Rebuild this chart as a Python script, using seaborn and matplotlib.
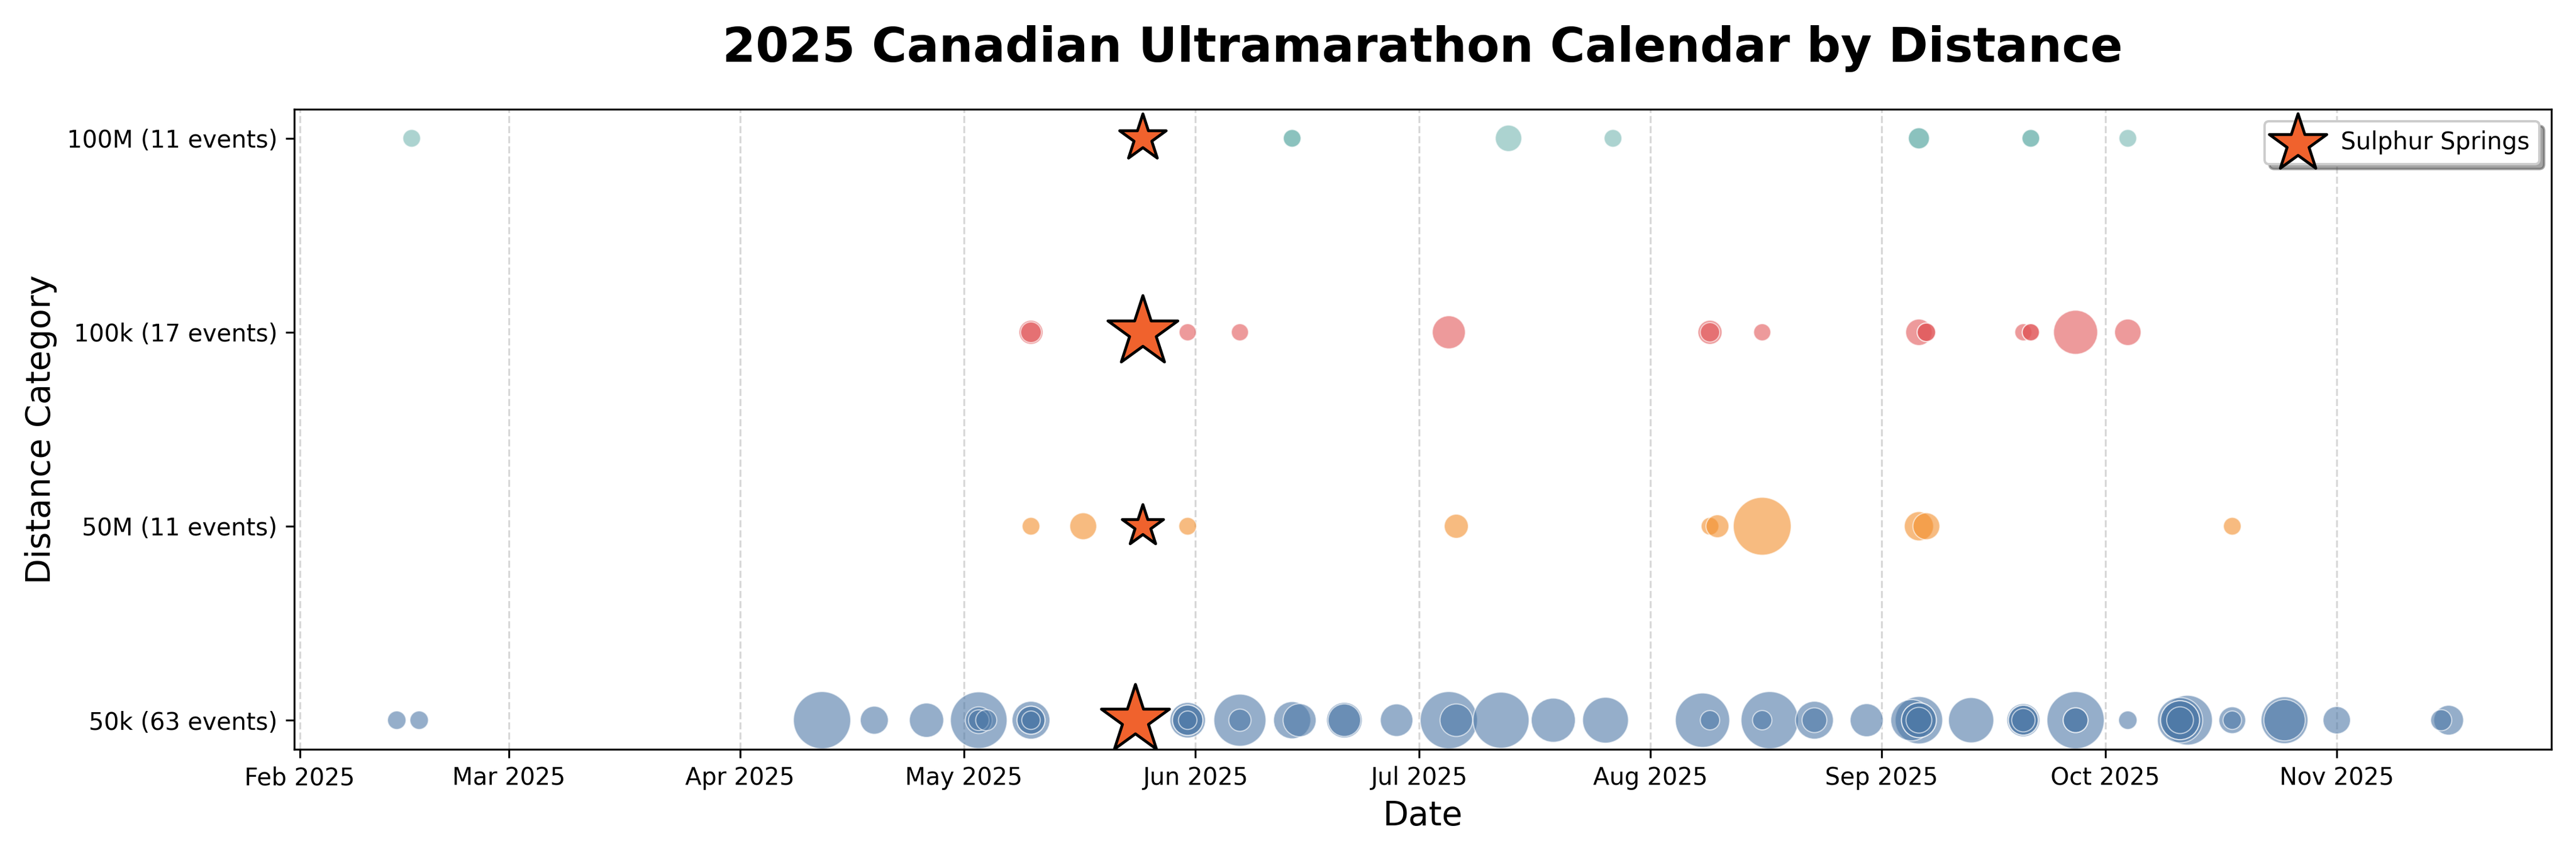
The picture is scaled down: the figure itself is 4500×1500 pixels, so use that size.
import numpy as np
import pandas as pd
import matplotlib
matplotlib.use("Agg")
import matplotlib.pyplot as plt
import matplotlib.dates as mdates
import seaborn as sns

# distance categories, bottom to top
categories = ["50k", "50M", "100k", "100M"]
colors = {"50k": "#4e79a7", "50M": "#f28e2b", "100k": "#e15759", "100M": "#76b7b2"}

# event dates and estimated field sizes (Sulphur Springs kept separately)
dates_50k = ["2025-02-14", "2025-02-17", "2025-04-12", "2025-04-19", "2025-04-26",
             "2025-05-03", "2025-05-03", "2025-05-03", "2025-05-04",
             "2025-05-10", "2025-05-10", "2025-05-10", "2025-05-10",
             "2025-05-31", "2025-05-31", "2025-05-31", "2025-05-31",
             "2025-06-07", "2025-06-07", "2025-06-14", "2025-06-15",
             "2025-06-21", "2025-06-21", "2025-06-28",
             "2025-07-05", "2025-07-06", "2025-07-12", "2025-07-19", "2025-07-26",
             "2025-08-08", "2025-08-09", "2025-08-17", "2025-08-16",
             "2025-08-23", "2025-08-23", "2025-08-30",
             "2025-09-06", "2025-09-05", "2025-09-06", "2025-09-06", "2025-09-06",
             "2025-09-13", "2025-09-20", "2025-09-20", "2025-09-20", "2025-09-20",
             "2025-09-27", "2025-09-27", "2025-09-27", "2025-10-04",
             "2025-10-12", "2025-10-11", "2025-10-11", "2025-10-11", "2025-10-11",
             "2025-10-18", "2025-10-18", "2025-10-25", "2025-10-25",
             "2025-11-01", "2025-11-16", "2025-11-15"]
size_50k = [100, 100, 960, 230, 345,
            940, 210, 125, 130,
            420, 230, 230, 100,
            370, 270, 270, 100,
            795, 145, 405, 320,
            370, 310, 310,
            960, 310, 920, 570, 615,
            865, 110, 960, 110,
            420, 180, 320,
            660, 500, 355, 355, 195,
            600, 320, 260, 260, 160,
            960, 180, 180, 100,
            725, 600, 445, 445, 210,
            210, 100, 645, 500,
            220, 260, 130]

dates_50M = ["2025-05-10", "2025-05-17", "2025-05-31", "2025-07-06", "2025-08-09",
             "2025-08-10", "2025-08-16", "2025-09-06", "2025-09-07", "2025-10-18"]
size_50M = [92, 212, 92, 170, 92, 154, 980, 250, 212, 92]

dates_100k = ["2025-05-10", "2025-05-10", "2025-05-31", "2025-06-07", "2025-07-05",
              "2025-08-09", "2025-08-09", "2025-08-16", "2025-09-06", "2025-09-07",
              "2025-09-07", "2025-09-20", "2025-09-21", "2025-09-21", "2025-09-27",
              "2025-10-04"]
size_100k = [170, 125, 86, 86, 320, 170, 110, 86, 205, 100, 100, 86, 86, 86, 570, 205]

dates_100M = ["2025-02-16", "2025-06-14", "2025-06-14", "2025-07-13", "2025-07-27",
              "2025-09-06", "2025-09-06", "2025-09-21", "2025-09-21", "2025-10-04"]
size_100M = [92, 92, 92, 205, 92, 131, 131, 92, 92, 92]

# Sulphur Springs, one per distance
ss_dates = ["2025-05-24", "2025-05-25", "2025-05-25", "2025-05-25"]
ss_size = [750, 275, 790, 350]

rows = []
for cat, d, s in [("50k", dates_50k, size_50k), ("50M", dates_50M, size_50M),
                  ("100k", dates_100k, size_100k), ("100M", dates_100M, size_100M)]:
    for di, si in zip(d, s):
        rows.append({"date": pd.Timestamp(di), "distance": cat, "field": si})
df = pd.DataFrame(rows)
df["ypos"] = df["distance"].map({c: i for i, c in enumerate(categories)})

counts = {c: int((df["distance"] == c).sum()) + 1 for c in categories}

fig, ax = plt.subplots(figsize=(15, 5), dpi=300)

sns.scatterplot(data=df, x="date", y="ypos", hue="distance", palette=colors,
                size="field", sizes=(0, 600), size_norm=(0, 1000),
                alpha=0.6, edgecolor="white", linewidth=0.5, legend=False, ax=ax)

# stars for Sulphur Springs, scaled like the bubbles but doubled
star_s = [2 * 600 * v / 1000 for v in ss_size]
ax.scatter(pd.to_datetime(ss_dates), [categories.index(c) for c in categories],
           s=star_s, marker="*", color="#F0622D", edgecolor="black",
           linewidth=1.2, zorder=5, label="Sulphur Springs")

ax.set_yticks(range(len(categories)))
ax.set_yticklabels([f"{c} ({counts[c]} events)" for c in categories])
ax.xaxis.set_major_locator(mdates.MonthLocator())
ax.xaxis.set_major_formatter(mdates.DateFormatter("%b %Y"))
ax.grid(True, axis="x", linestyle="--", alpha=0.5)
ax.set_axisbelow(True)

ax.set_title("2025 Canadian Ultramarathon Calendar by Distance",
             fontsize=20, fontweight="bold", pad=20)
ax.set_xlabel("Date", fontsize=14)
ax.set_ylabel("Distance Category", fontsize=14)
ax.legend(loc="upper right", shadow=True, fontsize=10)

plt.subplots_adjust(left=0.1142, right=0.9904, top=0.8727, bottom=0.1267)
plt.savefig("out.png", dpi=300)
